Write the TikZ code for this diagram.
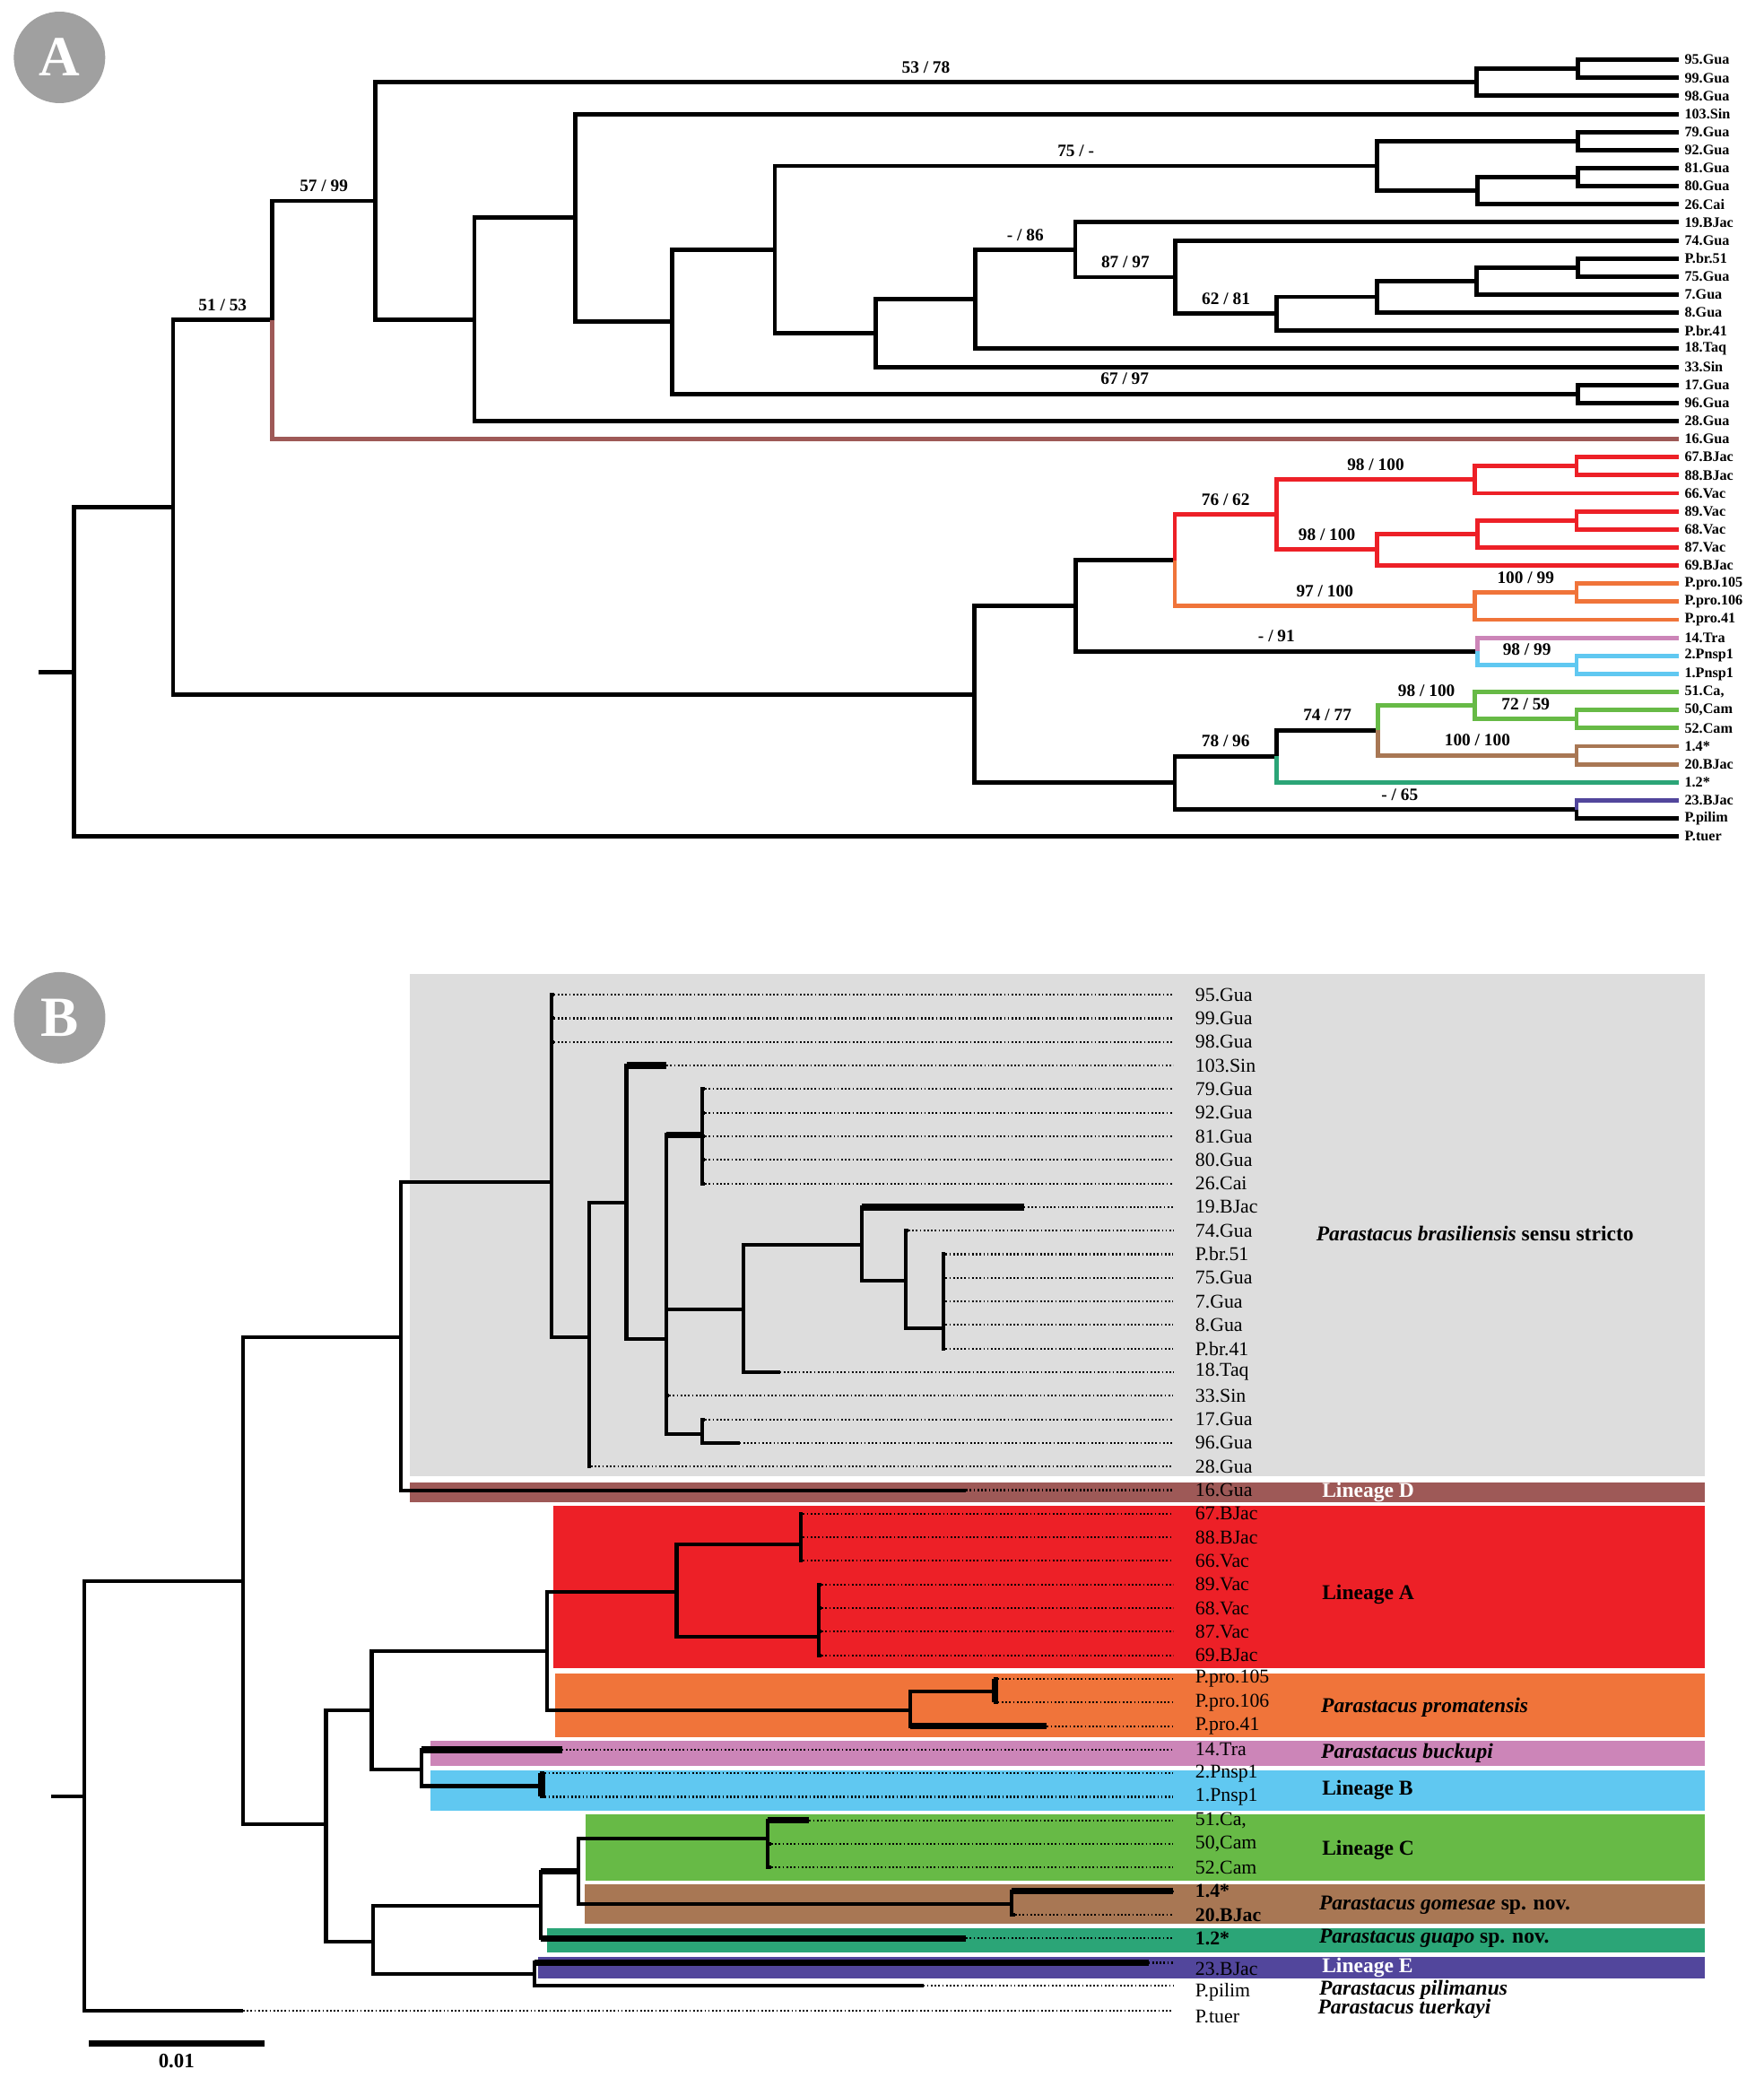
\documentclass[tikz,border=0pt]{standalone}
\usepackage{fontspec}
\setmainfont{Liberation Serif}
\usetikzlibrary{calc}
\definecolor{panelgrey}{RGB}{160,160,160}
\definecolor{boxgrey}{RGB}{221,221,221}
\definecolor{linD}{RGB}{158,89,87}
\definecolor{linA}{RGB}{237,32,39}
\definecolor{linO}{RGB}{240,116,58}
\definecolor{linP}{RGB}{204,133,184}
\definecolor{linB}{RGB}{96,200,241}
\definecolor{linC}{RGB}{103,186,70}
\definecolor{linBr}{RGB}{168,119,84}
\definecolor{linT}{RGB}{43,165,119}
\definecolor{linE}{RGB}{82,70,156}
\tikzset{
  branchA/.style={line width=1.4pt},
  branch/.style={line width=1.15pt},
  branchthick/.style={line width=2.1pt},
  dotline/.style={line width=0.6pt,dash pattern=on 0.5pt off 0.7pt},
  tipA/.style={anchor=west,inner sep=1.6pt,font=\fontsize{4.6}{5}\selectfont\bfseries},
  tipB/.style={anchor=west,inner sep=0pt,font=\fontsize{6.2}{7}\selectfont},
  suppA/.style={above=1.2pt,inner sep=1pt,text=black,font=\fontsize{5.5}{6}\selectfont\bfseries},
  clade/.style={anchor=west,inner sep=0pt,font=\fontsize{6.7}{8}\selectfont\bfseries},
  panel/.style={circle,fill=panelgrey,text=white,minimum size=10.2mm,inner sep=0pt,font=\fontsize{18}{18}\selectfont\bfseries},
}
\begin{document}
\begin{tikzpicture}[x=0.14778mm,y=-0.14778mm]
\useasboundingbox (0,0) rectangle (1331,1568);
% panel A
\node[panel] (pA) at (44.9,43.3) {A};
\foreach \lab [count=\i from 0] in {95.Gua,99.Gua,98.Gua,103.Sin,79.Gua,92.Gua,81.Gua,80.Gua,26.Cai,19.BJac,74.Gua,P.br.51,75.Gua,7.Gua,8.Gua,P.br.41,18.Taq,33.Sin,17.Gua,96.Gua,28.Gua,16.Gua,67.BJac,88.BJac,66.Vac,89.Vac,68.Vac,87.Vac,69.BJac,P.pro.105,P.pro.106,P.pro.41,14.Tra,2.Pnsp1,1.Pnsp1,{51.Ca,},{50,Cam},52.Cam,1.4*,20.BJac,1.2*,23.BJac,P.pilim,P.tuer}
  \node[tipA] (aT\i) at (1267,{45.1+13.63*\i}) {\lab};
\coordinate (aroot) at (29.4,507);
\coordinate (ar) at (56,507);
\coordinate (a1) at (130.6,382.7);
\coordinate (a2) at (205.4,241.45);
\coordinate (a3) at (283.4,151.6);
\coordinate (a95) at (1114,62.15);
\coordinate (a95b) at (1190.5,51.9);
\coordinate (a4) at (358,241.05);
\coordinate (a5) at (434,164.4);
\coordinate (a6) at (507,242.75);
\coordinate (a17) at (1190.5,297.25);
\coordinate (a7) at (584.7,188.25);
\coordinate (a79) at (1039,125.2);
\coordinate (a79a) at (1190.5,106.45);
\coordinate (a79b) at (1115,143.9);
\coordinate (a81) at (1190.5,133.7);
\coordinate (a8) at (661,251.3);
\coordinate (a9) at (736,225.8);
\coordinate (a10) at (811.4,188.45);
\coordinate (a11) at (887,209.1);
\coordinate (a12) at (963.3,236.8);
\coordinate (a13) at (1039,224);
\coordinate (a14) at (1114,212);
\coordinate (a15) at (1190.5,201.85);
\coordinate (as) at (735,523.95);
\coordinate (aA) at (811.7,457.2);
\coordinate (aRO) at (886.5,422.9);
\coordinate (aR) at (963.3,388.4);
\coordinate (aR1) at (1112.9,362);
\coordinate (aR1a) at (1189.7,351.8);
\coordinate (aR2) at (1039.2,414.8);
\coordinate (aR2a) at (1114.8,402.9);
\coordinate (aR2b) at (1189.7,392.7);
\coordinate (aO) at (1112.9,457.4);
\coordinate (aOa) at (1189.7,447.2);
\coordinate (aB) at (1114.8,491.5);
\coordinate (aBb) at (1189.7,501.7);
\coordinate (aS2) at (886.5,590.7);
\coordinate (aS3) at (963.3,570.7);
\coordinate (aCG) at (1040,551.1);
\coordinate (aG) at (1112.9,532.35);
\coordinate (aGb) at (1189.7,542.6);
\coordinate (aBr) at (1189.7,569.85);
\coordinate (aE) at (1189.7,610.75);
\draw[branchA] (aroot) -- (ar);
\foreach \p/\c in {ar/a1,a1/as,a3/a4,a95/a95b,a4/a5,a5/a6,a6/a7,a7/a8,a79/a79a,a79/a79b,a79b/a81,a8/a9,a12/a13,a13/a14,a14/a15,as/aA,aA/aRO,as/aS2}
  \draw[branchA] (\p) |- (\c);
\foreach \p/\i in {ar/43,a95b/0,a95b/1,a95/2,a5/3,a4/20,a17/18,a17/19,a79a/4,a79a/5,a81/6,a81/7,a79b/8,a8/17,a9/16,a10/9,a11/10,a12/15,a13/14,a14/13,a15/11,a15/12,aE/42}
  \draw[branchA] (\p) |- (aT\i.west);
\draw[branchA] (a1) |- (a2) node[suppA,pos=0.75] (bsA1) {51 / 53};
\draw[branchA] (a2) |- (a3) node[suppA,pos=0.75] (bsA2) {57 / 99};
\draw[branchA] (a3) |- (a95) node[suppA,pos=0.75] (bsA3) {53 / 78};
\draw[branchA] (a6) |- (a17) node[suppA,pos=0.75] (bsA4) {67 / 97};
\draw[branchA] (a7) |- (a79) node[suppA,pos=0.75] (bsA5) {75 / -};
\draw[branchA] (a9) |- (a10) node[suppA,pos=0.75] (bsA6) {- / 86};
\draw[branchA] (a10) |- (a11) node[suppA,pos=0.75] (bsA7) {87 / 97};
\draw[branchA] (a11) |- (a12) node[suppA,pos=0.75] (bsA8) {62 / 81};
\draw[branchA] (aA) |- (aB) node[suppA,pos=0.75] (bsA9) {- / 91};
\draw[branchA] (aS2) |- (aS3) node[suppA,pos=0.75] (bsA10) {78 / 96};
\draw[branchA] (aS2) |- (aE) node[suppA,pos=0.78] (bsA11) {- / 65};
\draw[branchA] (aS3) |- (aCG) node[suppA,pos=0.75] (bsA12) {74 / 77};
\draw[branchA,linD] (a2) |- (aT21.west);
\draw[branchA,linA] (aRO) |- (aR) node[suppA,pos=0.75] (bsA13) {76 / 62};
\draw[branchA,linA] (aR) |- (aR1) node[suppA,pos=0.75] (bsA14) {98 / 100};
\draw[branchA,linA] (aR) |- (aR2) node[suppA,pos=0.75] (bsA15) {98 / 100};
\foreach \p/\c in {aR1/aR1a,aR2/aR2a,aR2a/aR2b}
  \draw[branchA,linA] (\p) |- (\c);
\foreach \p/\i in {aR1/24,aR1a/22,aR1a/23,aR2/28,aR2a/27,aR2b/25,aR2b/26}
  \draw[branchA,linA] (\p) |- (aT\i.west);
\draw[branchA,linO] (aRO) |- (aO) node[suppA,pos=0.75] (bsA16) {97 / 100};
\draw[branchA,linO] (aO) |- (aOa) node[suppA,pos=0.75] (bsA17) {100 / 99};
\foreach \p/\i in {aO/31,aOa/29,aOa/30}
  \draw[branchA,linO] (\p) |- (aT\i.west);
\draw[branchA,linP] (aB) |- (aT32.west);
\draw[branchA,linB] (aB) |- (aBb) node[suppA,pos=0.75] (bsA18) {98 / 99};
\foreach \i in {33,34}
  \draw[branchA,linB] (aBb) |- (aT\i.west);
\draw[branchA,linT] (aS3) |- (aT40.west);
\draw[branchA,linC] (aCG) |- (aG) node[suppA,pos=0.75] (bsA19) {98 / 100};
\draw[branchA,linC] (aG) |- (aGb) node[suppA,pos=0.75] (bsA20) {72 / 59};
\foreach \p/\i in {aG/35,aGb/36,aGb/37}
  \draw[branchA,linC] (\p) |- (aT\i.west);
\draw[branchA,linBr] (aCG) |- (aBr) node[suppA,pos=0.75] (bsA21) {100 / 100};
\foreach \i in {38,39}
  \draw[branchA,linBr] (aBr) |- (aT\i.west);
\draw[branchA,linE] (aE) |- (aT41.west);
% panel B
\node[panel] (pB) at (45,768) {B};
\fill[boxgrey] (309.5,734.9) rectangle (1286.2,1113.7);
\fill[linD] (309.5,1118.7) rectangle (1286.2,1133.3);
\fill[linA] (417.5,1136.1) rectangle (1286.2,1259);
\fill[linO] (419,1262.7) rectangle (1286.2,1310.8);
\fill[linP] (325,1313.4) rectangle (1286.2,1332.5);
\fill[linB] (325,1335.9) rectangle (1286.2,1366.1);
\fill[linC] (441.9,1369) rectangle (1286.2,1418.8);
\fill[linBr] (441,1421.7) rectangle (1286.2,1451.9);
\fill[linT] (412.6,1454.8) rectangle (1286.2,1473.5);
\fill[linE] (406,1476.6) rectangle (1286.2,1493.1);
\foreach \lab/\ex [count=\i from 0] in {95.Gua/418,99.Gua/418,98.Gua/418,103.Sin/503,79.Gua/532,92.Gua/532,81.Gua/532,80.Gua/532,26.Cai/532,19.BJac/772.6,74.Gua/685.5,P.br.51/713.5,75.Gua/713.5,7.Gua/713.5,8.Gua/713.5,P.br.41/713.5,18.Taq/588.5,33.Sin/505,17.Gua/532,96.Gua/558,28.Gua/446,16.Gua/729,67.BJac/606,88.BJac/606,66.Vac/606,89.Vac/620,68.Vac/620,87.Vac/620,69.BJac/620,P.pro.105/753,P.pro.106/753,P.pro.41/790,14.Tra/424,2.Pnsp1/411,1.Pnsp1/411,{51.Ca,}/610.7,{50,Cam}/582,52.Cam/582,\textbf{1.4*}/885,\textbf{20.BJac}/766,\textbf{1.2*}/729}{
  \node[tipB] (bT\i) at (901.6,{750.6+17.8*\i}) {\lab};
  \coordinate (bE\i) at (\ex,{750.6+17.8*\i});
  \draw[dotline,shorten >=6.8pt] (bE\i) -- (bT\i.west);
}
\node[tipB] (bT41) at (901.6,1486) {23.BJac};
\node[tipB] (bT42) at (901.6,1503) {P.pilim};
\node[tipB] (bT43) at (901.6,1521.5) {P.tuer};
\coordinate (bE41) at (866.6,1481);
\coordinate (bE42) at (696.7,1498.5);
\coordinate (bE43) at (183.4,1517.5);
\foreach \i in {41,42,43}
  \draw[dotline,shorten >=6.8pt] (bE\i) -- (bE\i -| bT\i.west);
\coordinate (broot) at (38.8,1355.2);
\coordinate (bR) at (63.9,1355.2);
\coordinate (b1) at (183.4,1192.8);
\coordinate (b2) at (302.5,1008.8);
\coordinate (b3) at (416.4,892);
\coordinate (b4) at (444.3,1008.8);
\coordinate (b5) at (472.7,907.8);
\coordinate (b6) at (503,1010.2);
\coordinate (b7) at (530.2,856.4);
\coordinate (b8) at (561.3,988.3);
\coordinate (b9) at (650.2,939.2);
\coordinate (b10) at (683.5,966.4);
\coordinate (b11) at (711.6,1002.3);
\coordinate (b12) at (530.2,1082.2);
\coordinate (b13) at (246,1376.4);
\coordinate (b14) at (280.5,1290.7);
\coordinate (b15) at (413,1246.1);
\coordinate (b16) at (687.1,1290.6);
\coordinate (b17) at (751,1276.3);
\coordinate (b18) at (510.6,1201.5);
\coordinate (b19) at (604.2,1165.5);
\coordinate (b20) at (618,1235.1);
\coordinate (b21) at (318,1335.3);
\coordinate (b22) at (408.7,1347.7);
\coordinate (b23) at (281.4,1464.8);
\coordinate (b24) at (408.3,1438.3);
\coordinate (b25) at (436.8,1412.1);
\coordinate (b26) at (579.6,1387);
\coordinate (b27) at (763.5,1436.6);
\coordinate (b28) at (403.5,1489.75);
\draw[branch] (broot) -- (bR);
\foreach \p/\c in {bR/b1,b1/b2,b1/b13,b2/b3,b3/b4,b4/b5,b5/b6,b6/b7,b6/b8,b6/b12,b8/b9,b9/b10,b10/b11,b13/b14,b13/b23,b14/b15,b14/b21,b15/b18,b15/b16,b18/b19,b18/b20,b16/b17,b21/b22,b23/b24,b23/b28,b24/b25,b25/b26,b25/b27}
  \draw[branch] (\p) |- (\c);
\foreach \p/\i in {bR/43,b2/21,b3/0,b3/1,b3/2,b4/20,b5/3,b6/17,b7/4,b7/5,b7/6,b7/7,b7/8,b8/16,b9/9,b10/10,b11/11,b11/12,b11/13,b11/14,b11/15,b12/18,b12/19,b19/22,b19/23,b19/24,b20/25,b20/26,b20/27,b20/28,b16/31,b17/29,b17/30,b21/32,b22/33,b22/34,b24/40,b26/35,b26/36,b26/37,b27/38,b27/39,b28/41,b28/42}
  \draw[branch] (\p) |- (bE\i);
\draw[branchthick] (b5 |- bE3) -- (bE3);
\draw[branchthick] (b6 |- b7) -- (b7);
\draw[branchthick] (b9 |- bE9) -- (bE9);
\draw[branchthick] (b16 |- bE31) -- (bE31);
\draw[branchthick] (bE29 -| b17) -- (bE30 -| b17);
\draw[branchthick] (b21 |- bE32) -- (bE32);
\draw[branchthick] (bE33 -| b22) -- (bE34 -| b22);
\draw[branchthick] (b24 |- b25) -- (b25);
\draw[branchthick] (b24 |- bE40) -- (bE40);
\draw[branchthick] (b27 |- bE38) -- (bE38);
\draw[branchthick] (b28 |- bE41) -- (bE41);
\draw[branchthick] (b26 |- bE35) -- (bE35);
\node[clade] (cS) at (992.8,930.8) {\textit{Parastacus brasiliensis} sensu stricto};
\node[clade,text=white] (cD) at (997.2,1125.8) {Lineage D};
\node[clade] (cA) at (997.2,1203.5) {Lineage A};
\node[clade] (cP) at (996.5,1288.7) {\textit{Parastacus promatensis}};
\node[clade] (cK) at (996.5,1322.6) {\textit{Parastacus buckupi}};
\node[clade] (cB) at (997.2,1350.6) {Lineage B};
\node[clade] (cC) at (997.2,1396.3) {Lineage C};
\node[clade] (cG) at (995,1437.5) {\textit{Parastacus gomesae} sp. nov.};
\node[clade] (cU) at (995,1462.6) {\textit{Parastacus guapo} sp. nov.};
\node[clade,text=white] (cE) at (997.2,1485) {Lineage E};
\node[clade] (cL) at (995,1501.6) {\textit{Parastacus pilimanus}};
\node[clade] (cT) at (994,1515.8) {\textit{Parastacus tuerkayi}};
\coordinate (sL) at (66.9,1542);
\coordinate (sR) at (199.4,1542);
\draw[line width=2.2pt] (sL) -- (sR) node[midway,below=1.3pt,inner sep=1pt,font=\fontsize{6.5}{7}\selectfont\bfseries] (sLab) {0.01};
\end{tikzpicture}
\end{document}
